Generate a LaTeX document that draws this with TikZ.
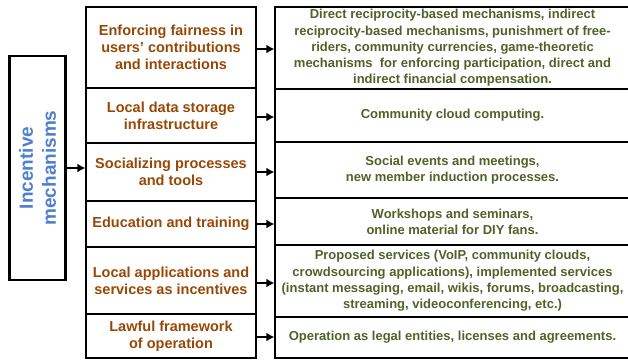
\documentclass[tikz,border=0pt]{standalone}
\usepackage{fontspec}
\setmainfont{Liberation Sans}
\usetikzlibrary{arrows.meta}
\definecolor{midbrown}{HTML}{984806}
\definecolor{rgreen}{HTML}{4F6228}
\definecolor{lblue}{HTML}{4F7FD0}
\begin{document}
\begin{tikzpicture}[x=1pt,y=-1pt,
  cellbox/.style={draw=black, line width=1.3pt, rectangle, inner sep=0pt, align=center},
  midcell/.style={cellbox, text=midbrown, minimum width=170pt, font=\bfseries\fontsize{14.5}{17}\selectfont},
  rcell/.style={cellbox, text=rgreen, minimum width=355pt, font=\bfseries\fontsize{13}{16.3}\selectfont},
  lbox/.style={draw=black, line width=2.2pt, rectangle, inner sep=0pt, align=center, text=lblue, font=\bfseries\fontsize{19}{23}\selectfont},
  arr/.style={draw=black, line width=2.5pt, -{Latex[length=8pt,width=9pt]}}
]
\useasboundingbox (0,0) rectangle (628,360);
% left box
\node[lbox, rotate=90, minimum width=224pt, minimum height=56pt] (L) at (37.5,168) {Incentive\\mechanisms};
% middle column
\node[midcell, minimum height=81pt] (m1) at (171,47.5) {Enforcing fairness in\\users’ contributions\\and interactions};
\node[midcell, minimum height=55pt] (m2) at (171,115.5) {Local data storage\\infrastructure};
\node[midcell, minimum height=58pt] (m3) at (171,172) {Socializing processes\\and tools};
\node[midcell, minimum height=46pt] (m4) at (171,224) {Education and training};
\node[midcell, minimum height=67pt] (m5) at (171,280.5) {Local applications and\\services as incentives};
\node[midcell, minimum height=44pt] (m6) at (171,336) {Lawful framework\\of operation};
% right column
\node[rcell, minimum height=82pt] (r1) at (452.5,48) {Direct reciprocity-based mechanisms, indirect\\reciprocity-based mechanisms, punishmert of free-\\riders, community currencies, game-theoretic\\mechanisms~ for enforcing participation, direct and\\indirect financial compensation.};
\node[rcell, minimum height=53pt] (r2) at (452.5,115.5) {Community cloud computing.};
\node[rcell, minimum height=56pt] (r3) at (452.5,170) {Social events and meetings,\\new member induction processes.};
\node[rcell, minimum height=47pt] (r4) at (452.5,221.5) {Workshops and seminars,\\online material for DIY fans.};
\node[rcell, minimum height=72pt] (r5) at (452.5,281) {Proposed services (VoIP, community clouds,\\crowdsourcing applications), implemented services\\(instant messaging, email, wikis, forums, broadcasting,\\streaming, videoconferencing, etc.)};
\node[rcell, minimum height=41pt] (r6) at (452.5,337.5) {Operation as legal entities, licenses and agreements.};
% arrows
\draw[arr] (L.south) -- (L.south -| m3.west);
\draw[arr] ([yshift=-1.5pt]m1.east) -- ([yshift=-1.5pt]m1.east -| r1.west);
\draw[arr] ([yshift=-1.5pt]m2.east) -- ([yshift=-1.5pt]m2.east -| r2.west);
\draw[arr] (m3.east) -- (m3.east -| r3.west);
\draw[arr] (m4.east) -- (m4.east -| r4.west);
\draw[arr] ([yshift=-2.5pt]m5.east) -- ([yshift=-2.5pt]m5.east -| r5.west);
\draw[arr] ([yshift=-1pt]m6.east) -- ([yshift=-1pt]m6.east -| r6.west);
\end{tikzpicture}
\end{document}
